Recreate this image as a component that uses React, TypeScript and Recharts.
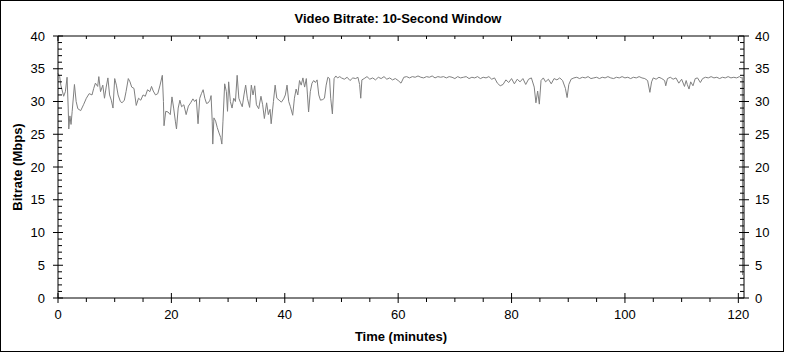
import React from 'react';
import { LineChart, Line, XAxis, YAxis } from 'recharts';

const minutes = [
  0, 0.3, 0.5, 1.0, 1.3, 1.6, 1.8, 1.9, 2.1, 2.3, 2.5, 2.9, 3.2, 3.5, 4.0, 4.5, 5.0, 5.5, 6.0, 6.3,
  6.6, 7.0, 7.2, 7.5, 7.9, 8.2, 8.5, 8.8, 9.1, 9.4, 9.7, 10.0, 10.3, 10.6, 11.0, 11.3, 11.7, 12.0, 12.4, 12.7,
  13.0, 13.4, 13.8, 14.2, 14.6, 15.0, 15.4, 15.8, 16.2, 16.5, 16.8, 17.2, 17.6, 18.0, 18.4, 18.6, 18.7, 19.0, 19.4, 19.8,
  20.1, 20.4, 20.7, 20.9, 21.2, 21.5, 21.8, 22.2, 22.6, 23.0, 23.4, 23.8, 24.1, 24.4, 24.7, 25.0, 25.3, 25.6, 25.9, 26.2,
  26.5, 26.8, 27.0, 27.2, 27.3, 27.5, 27.8, 28.1, 28.4, 28.7, 28.9, 29.1, 29.4, 29.7, 29.9, 30.1, 30.4, 30.7, 31.0, 31.3,
  31.6, 31.9, 32.2, 32.5, 32.8, 33.1, 33.4, 33.8, 34.1, 34.4, 34.7, 35.0, 35.4, 35.8, 36.1, 36.4, 36.8, 37.1, 37.4, 37.6,
  38.0, 38.3, 38.6, 39.0, 39.4, 39.8, 40.1, 40.4, 40.7, 41.0, 41.4, 41.7, 42.0, 42.3, 42.6, 42.9, 43.2, 43.5, 43.8, 44.0,
  44.2, 44.5, 44.8, 45.1, 45.4, 45.7, 46.0, 46.3, 46.7, 47.0, 47.3, 47.6, 47.9, 48.1, 48.4, 48.7, 49.0, 49.3, 49.7,
  50.0, 50.5, 51.0, 51.5, 52.0, 52.5, 52.9, 53.2, 53.4, 53.6, 54.0, 54.5, 55.0, 55.5, 56.0, 56.5, 57.0, 57.5, 58.0, 58.5,
  59.0, 59.5, 60.0, 60.5, 61.0, 61.5, 62.0, 62.5, 63.0, 63.5, 64.0, 64.5, 65.0, 65.5, 66.0, 66.5, 67.0, 67.5, 68.0, 68.5,
  69.0, 69.5, 70.0, 70.5, 71.0, 71.5, 72.0, 72.5, 73.0, 73.5, 74.0, 74.5, 75.0, 75.5, 76.0, 76.5, 77.0, 77.5, 78.0, 78.5,
  79.0, 79.5, 80.0, 80.5, 81.0, 81.5, 82.0, 82.5, 83.0, 83.5, 84.0, 84.3, 84.6, 84.9, 85.2, 85.6, 86.0, 86.5, 87.0, 87.5,
  88.0, 88.5, 89.0, 89.5, 89.8, 90.1, 90.5, 91.0, 91.5, 92.0, 92.5, 93.0, 93.5, 94.0, 94.5, 95.0, 95.5, 96.0, 96.5, 97.0,
  97.5, 98.0, 98.5, 99.0, 99.5, 100.0, 100.5, 101.0, 101.5, 102.0, 102.5, 103.0, 103.5, 104.0, 104.4, 104.7, 105.0, 105.5, 106.0, 106.5,
  107.0, 107.2, 107.5, 108.0, 108.5, 109.0, 109.5, 110.0, 110.5, 110.8, 111.0, 111.3, 111.6, 112.0, 112.4, 112.8, 113.3, 113.7, 114.2, 114.7,
  115.2, 115.7, 116.2, 116.7, 117.2, 117.7, 118.2, 118.7, 119.2, 119.7, 120.2, 120.5, 120.7, 120.75,
];

const mbps = [
  34.3, 33.8, 32.5, 30.8, 31.5, 33.7, 29.0, 25.8, 27.8, 26.5, 28.5, 32.6, 30.0, 28.9, 28.6, 29.5, 30.5, 31.2, 31.0, 32.0,
  32.8, 32.3, 33.8, 31.5, 32.5, 30.5, 32.2, 33.6, 31.0, 30.2, 29.0, 33.5, 32.5, 31.0, 30.0, 29.8, 30.2, 31.5, 33.5, 33.0,
  32.2, 32.0, 29.4, 30.5, 30.2, 31.0, 30.8, 31.8, 31.5, 32.3, 31.6, 31.0, 31.2, 32.5, 34.0, 30.0, 26.3, 28.5, 28.4, 28.0,
  30.7, 29.0, 27.0, 25.8, 29.0, 30.2, 29.2, 29.5, 28.0, 29.3, 29.8, 30.4, 30.0, 30.3, 26.6, 30.5, 31.2, 31.8, 30.5, 29.7,
  29.8, 30.2, 30.9, 27.0, 23.5, 27.5, 27.0, 26.0, 25.2, 24.5, 23.5, 27.0, 32.7, 31.5, 28.5, 33.0, 30.0, 29.0, 30.5, 30.0,
  34.0, 30.5, 29.8, 29.2, 31.0, 32.5, 30.5, 29.1, 32.5, 31.0, 32.4, 29.5, 28.9, 30.8, 29.5, 27.4, 29.8, 28.0, 28.8, 26.6,
  30.0, 32.5, 30.5, 30.2, 29.9, 30.4, 31.0, 32.5, 30.0, 29.2, 27.9, 30.5, 31.9, 31.0, 33.2, 32.5, 33.6, 32.2, 33.5, 31.0,
  28.4, 31.5, 32.8, 33.2, 32.9, 33.3, 31.0, 30.2, 30.3, 30.5, 32.5, 33.7, 33.5, 30.5, 28.1, 33.5, 33.9, 33.6, 33.8,
  33.6, 33.4, 33.7, 33.2, 33.6, 33.5, 33.7, 32.6, 30.5, 33.3, 33.5, 33.8, 33.4, 33.6, 33.3, 33.7, 33.5, 33.8, 33.4, 33.6,
  33.3, 33.5, 33.2, 32.8, 33.7, 33.8, 33.6, 33.8, 33.7, 33.9, 33.7, 33.6, 33.8, 33.7, 33.9, 33.6, 33.8, 33.7, 33.8, 33.6,
  33.8, 33.7, 33.5, 33.8, 33.6, 33.7, 33.8, 33.5, 33.7, 33.6, 33.8, 33.5, 33.7, 33.6, 33.8, 33.4, 33.6, 32.8, 32.4, 32.6,
  33.3, 32.9, 33.5, 32.7, 33.4, 33.0, 33.5, 32.6, 33.4, 33.6, 32.2, 29.8, 31.6, 29.6, 33.2, 33.6, 33.0, 33.4, 32.7, 33.5,
  33.3, 33.6, 33.2, 32.0, 30.6, 32.6, 33.4, 33.6, 33.7, 33.5, 33.7, 33.6, 33.8, 33.5, 33.6, 33.7, 33.5, 33.7, 33.6, 33.8,
  33.6, 33.5, 33.7, 33.6, 33.8, 33.6, 33.7, 33.5, 33.7, 33.6, 33.8, 33.6, 33.5, 33.2, 31.4, 33.0, 33.6, 33.4, 33.7, 33.5,
  33.2, 32.4, 33.5, 33.7, 33.4, 33.6, 32.8, 33.4, 32.3, 33.2, 32.6, 31.9, 33.0, 32.4, 33.5, 33.6, 32.9, 33.5, 33.7, 33.6,
  33.8, 33.6, 33.7, 33.5, 33.7, 33.6, 33.8, 33.6, 33.7, 33.6, 33.8, 33.6, 33.7, 3.5,
];

const xTicks = [0, 5, 10, 15, 20, 25, 30, 35, 40, 45, 50, 55, 60, 65, 70, 75, 80, 85, 90, 95, 100, 105, 110, 115, 120];
const xLabels = [0, 20, 40, 60, 80, 100, 120];
const yTicks = [
  0, 1, 2, 3, 4, 5, 6, 7, 8, 9, 10, 11, 12, 13, 14, 15, 16, 17, 18, 19, 20,
  21, 22, 23, 24, 25, 26, 27, 28, 29, 30, 31, 32, 33, 34, 35, 36, 37, 38, 39, 40,
];
const yLabels = [0, 5, 10, 15, 20, 25, 30, 35, 40];

const title = 'Video Bitrate: 10-Second Window';
const xTitle = 'Time (minutes)';
const yTitle = 'Bitrate (Mbps)';

const data = minutes.map((t, i) => ({ t, v: mbps[i] }));

const FONT = '"Liberation Sans", Arial, Helvetica, sans-serif';

function LeftTick(props: any) {
  const { x, y, payload } = props;
  const v = payload.value;
  const major = yLabels.includes(v);
  return (
    <g>
      {major ? (
        <line x1={x - 5} x2={x + 5} y1={y} y2={y} stroke="#000" />
      ) : (
        <line x1={x} x2={x + 4} y1={y} y2={y} stroke="#000" />
      )}
      {major && (
        <text x={x - 13} y={y} dy="0.36em" textAnchor="end" fontSize={13} fontFamily={FONT} fill="#000">
          {v}
        </text>
      )}
    </g>
  );
}

function RightTick(props: any) {
  const { x, y, payload } = props;
  const v = payload.value;
  const major = yLabels.includes(v);
  return (
    <g>
      {major ? (
        <line x1={x - 5} x2={x + 5} y1={y} y2={y} stroke="#000" />
      ) : (
        <line x1={x - 4} x2={x} y1={y} y2={y} stroke="#000" />
      )}
      {major && (
        <text x={x + 11} y={y} dy="0.36em" textAnchor="start" fontSize={13} fontFamily={FONT} fill="#000">
          {v}
        </text>
      )}
    </g>
  );
}

function BottomTick(props: any) {
  const { x, y, payload } = props;
  const v = payload.value;
  const major = xLabels.includes(v);
  return (
    <g>
      {major ? (
        <line x1={x} x2={x} y1={y - 5} y2={y + 5} stroke="#000" />
      ) : (
        <line x1={x} x2={x} y1={y} y2={y + 4} stroke="#000" />
      )}
      {major && (
        <text x={x} y={y + 21} textAnchor="middle" fontSize={13} fontFamily={FONT} fill="#000">
          {v}
        </text>
      )}
    </g>
  );
}

function TopTick(props: any) {
  const { x, y, payload } = props;
  const v = payload.value;
  const major = xLabels.includes(v);
  return (
    <g>
      <line x1={x} x2={x} y1={y} y2={y + (major ? 5 : 3)} stroke="#000" />
    </g>
  );
}

export default function App() {
  return (
    <div style={{ position: 'absolute', left: 0, top: 0, width: 785, height: 353, background: '#fff' }}>
      <LineChart
        width={785}
        height={353}
        data={data}
        margin={{ top: 35, right: 8, bottom: 25, left: 8 }}
      >
        <XAxis
          xAxisId="bottom"
          dataKey="t"
          type="number"
          domain={[0, 121]}
          ticks={xTicks}
          interval={0}
          height={30}
          tickSize={0}
          tickMargin={0}
          tickLine={false}
          axisLine={{ stroke: '#000' }}
          tick={<BottomTick />}
        />
        <XAxis
          xAxisId="top"
          orientation="top"
          dataKey="t"
          type="number"
          domain={[0, 121]}
          ticks={xTicks}
          interval={0}
          height={1}
          tickSize={0}
          tickMargin={0}
          tickLine={false}
          axisLine={{ stroke: '#000' }}
          tick={<TopTick />}
        />
        <YAxis
          yAxisId="left"
          domain={[0, 40]}
          ticks={yTicks}
          interval={0}
          width={50}
          tickSize={0}
          tickMargin={0}
          tickLine={false}
          axisLine={{ stroke: '#000' }}
          tick={<LeftTick />}
        />
        <YAxis
          yAxisId="right"
          orientation="right"
          domain={[0, 40]}
          ticks={yTicks}
          interval={0}
          width={33}
          tickSize={0}
          tickMargin={0}
          tickLine={false}
          axisLine={{ stroke: '#000' }}
          tick={<RightTick />}
        />
        <Line
          xAxisId="top"
          yAxisId="right"
          type="linear"
          dataKey="v"
          stroke="none"
          strokeWidth={0}
          dot={false}
          activeDot={false}
          legendType="none"
          isAnimationActive={false}
        />
        <Line
          xAxisId="bottom"
          yAxisId="left"
          type="linear"
          dataKey="v"
          stroke="#808080"
          strokeWidth={1}
          dot={false}
          activeDot={false}
          isAnimationActive={false}
        />
      </LineChart>
      <svg
        width={785}
        height={353}
        style={{ position: 'absolute', left: 0, top: 0, pointerEvents: 'none' }}
      >
        <text x={398} y={23} textAnchor="middle" fontSize={13} fontWeight="bold" fontFamily={FONT} fill="#000">
          {title}
        </text>
        <text x={401} y={341} textAnchor="middle" fontSize={13} fontWeight="bold" fontFamily={FONT} fill="#000">
          {xTitle}
        </text>
        <text
          x={0}
          y={0}
          transform="translate(21.5,167) rotate(-90)"
          textAnchor="middle"
          fontSize={13}
          fontWeight="bold"
          fontFamily={FONT}
          fill="#000"
        >
          {yTitle}
        </text>
      </svg>
      <div
        style={{
          position: 'absolute',
          left: 0,
          top: 0,
          width: 784,
          height: 352,
          border: '1px solid #000',
          boxSizing: 'border-box',
          pointerEvents: 'none',
        }}
      />
    </div>
  );
}
